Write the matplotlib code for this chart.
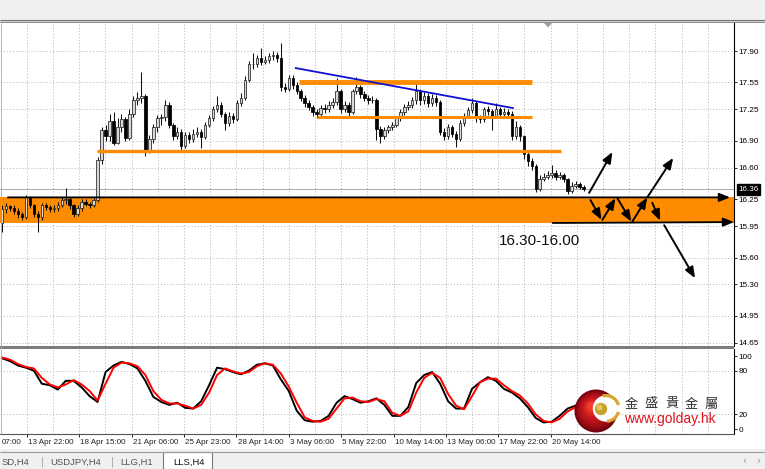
"""
LLS,H4 chart with support zone 16.30-16.00 and stochastic oscillator.
Redraw of a MetaTrader screenshot.
"""

import numpy as np
import matplotlib
matplotlib.use('Agg')
import matplotlib.pyplot as plt
from matplotlib.patches import Rectangle, Circle, Polygon, Wedge
from matplotlib.transforms import blended_transform_factory

# ---- candles (H4), oldest first ----
opens = [15.98, 16.14, 16.17, 16.15, 16.12, 16.08, 16.05, 16.27, 16.18, 16.09,
         16.05, 16.18, 16.16, 16.14, 16.15, 16.19, 16.24, 16.25, 16.18, 16.08,
         16.15, 16.22, 16.20, 16.18, 16.24, 16.69, 17.02, 16.95, 17.12, 16.88,
         17.05, 17.14, 16.93, 17.20, 17.36, 17.38, 17.40, 16.78, 16.92, 17.05,
         17.15, 17.16, 17.30, 17.08, 16.95, 17.00, 16.84, 16.97, 16.92, 16.98,
         17.00, 16.94, 17.08, 17.15, 17.25, 17.30, 17.20, 17.10, 17.18, 17.14,
         17.32, 17.38, 17.58, 17.75, 17.76, 17.82, 17.78, 17.80, 17.84, 17.86,
         17.82, 17.50, 17.48, 17.60, 17.52, 17.46, 17.38, 17.32, 17.28, 17.22,
         17.20, 17.27, 17.25, 17.30, 17.33, 17.45, 17.25, 17.30, 17.22, 17.45,
         17.50, 17.42, 17.38, 17.35, 17.36, 17.03, 16.95, 17.02, 17.05, 17.08,
         17.15, 17.22, 17.28, 17.30, 17.35, 17.45, 17.35, 17.40, 17.32, 17.38,
         17.33, 17.00, 16.95, 17.05, 16.98, 16.92, 17.10, 17.18, 17.24, 17.32,
         17.15, 17.14, 17.25, 17.23, 17.18, 17.25, 17.20, 17.22, 17.20, 16.95,
         17.05, 16.95, 16.75, 16.68, 16.62, 16.36, 16.48, 16.50, 16.52, 16.54,
         16.50, 16.52, 16.47, 16.34, 16.40, 16.42, 16.39]
highs = [16.18, 16.21, 16.19, 16.18, 16.15, 16.11, 16.30, 16.29, 16.20, 16.12,
         16.21, 16.21, 16.19, 16.18, 16.22, 16.27, 16.37, 16.27, 16.20, 16.18,
         16.25, 16.25, 16.22, 16.26, 16.72, 17.05, 17.08, 17.20, 17.22, 17.15,
         17.20, 17.17, 17.25, 17.40, 17.44, 17.67, 17.42, 16.96, 17.09, 17.19,
         17.20, 17.35, 17.33, 17.10, 17.05, 17.03, 17.00, 17.00, 17.03, 17.05,
         17.03, 17.11, 17.19, 17.29, 17.40, 17.33, 17.22, 17.22, 17.21, 17.36,
         17.43, 17.62, 17.79, 17.88, 17.86, 17.93, 17.85, 17.88, 17.90, 17.89,
         17.99, 17.54, 17.63, 17.63, 17.55, 17.48, 17.41, 17.35, 17.30, 17.25,
         17.30, 17.31, 17.34, 17.38, 17.60, 17.48, 17.34, 17.33, 17.48, 17.61,
         17.52, 17.45, 17.41, 17.40, 17.38, 17.06, 17.05, 17.08, 17.11, 17.18,
         17.25, 17.31, 17.34, 17.39, 17.57, 17.48, 17.44, 17.43, 17.42, 17.41,
         17.36, 17.04, 17.09, 17.08, 17.01, 17.13, 17.21, 17.28, 17.38, 17.34,
         17.19, 17.28, 17.29, 17.25, 17.32, 17.28, 17.26, 17.25, 17.23, 17.12,
         17.08, 16.97, 16.78, 16.71, 16.64, 16.52, 16.54, 16.56, 16.63, 16.57,
         16.55, 16.54, 16.49, 16.44, 16.45, 16.44, 16.41]
lows = [15.88, 16.10, 16.12, 16.09, 16.04, 16.02, 16.03, 16.15, 16.05, 15.88,
        16.02, 16.13, 16.11, 16.11, 16.12, 16.16, 16.20, 16.14, 16.05, 16.06,
        16.12, 16.17, 16.15, 16.16, 16.22, 16.64, 16.90, 16.90, 16.85, 16.86,
        17.00, 16.90, 16.91, 17.17, 17.30, 17.32, 16.73, 16.76, 16.88, 17.00,
        17.08, 17.12, 17.04, 16.91, 16.92, 16.78, 16.82, 16.88, 16.89, 16.94,
        16.82, 16.92, 17.05, 17.12, 17.22, 17.16, 17.02, 17.07, 17.10, 17.12,
        17.29, 17.35, 17.55, 17.70, 17.72, 17.74, 17.75, 17.77, 17.80, 17.78,
        17.46, 17.44, 17.45, 17.48, 17.42, 17.34, 17.28, 17.24, 17.18, 17.15,
        17.18, 17.21, 17.22, 17.27, 17.30, 17.21, 17.22, 17.18, 17.20, 17.42,
        17.38, 17.34, 17.31, 17.32, 16.91, 16.88, 16.92, 16.99, 17.02, 17.05,
        17.12, 17.19, 17.24, 17.27, 17.31, 17.30, 17.31, 17.28, 17.29, 17.29,
        16.96, 16.91, 16.92, 16.94, 16.83, 16.90, 17.07, 17.15, 17.21, 17.11,
        17.10, 17.11, 17.19, 17.02, 17.15, 17.16, 17.17, 17.16, 16.91, 16.92,
        16.90, 16.70, 16.62, 16.58, 16.33, 16.34, 16.45, 16.47, 16.49, 16.46,
        16.47, 16.44, 16.31, 16.32, 16.38, 16.36, 16.34]
closes = [16.14, 16.17, 16.15, 16.12, 16.08, 16.05, 16.27, 16.18, 16.09, 16.05,
          16.18, 16.16, 16.14, 16.15, 16.19, 16.24, 16.25, 16.18, 16.08, 16.15,
          16.22, 16.20, 16.18, 16.24, 16.69, 17.02, 16.95, 17.12, 16.88, 17.05,
          17.14, 16.93, 17.20, 17.36, 17.38, 17.40, 16.78, 16.92, 17.05, 17.15,
          17.16, 17.30, 17.08, 16.95, 17.00, 16.84, 16.97, 16.92, 16.98, 17.00,
          16.94, 17.08, 17.15, 17.25, 17.30, 17.20, 17.10, 17.18, 17.14, 17.32,
          17.38, 17.58, 17.75, 17.76, 17.82, 17.78, 17.80, 17.84, 17.86, 17.82,
          17.50, 17.48, 17.60, 17.52, 17.46, 17.38, 17.32, 17.28, 17.22, 17.20,
          17.27, 17.25, 17.30, 17.33, 17.45, 17.25, 17.30, 17.22, 17.45, 17.50,
          17.42, 17.38, 17.35, 17.36, 17.03, 16.95, 17.02, 17.05, 17.08, 17.15,
          17.22, 17.28, 17.30, 17.35, 17.45, 17.35, 17.40, 17.32, 17.38, 17.33,
          17.00, 16.95, 17.05, 16.98, 16.92, 17.10, 17.18, 17.24, 17.32, 17.15,
          17.14, 17.25, 17.23, 17.18, 17.25, 17.20, 17.22, 17.20, 16.95, 17.05,
          16.95, 16.75, 16.68, 16.62, 16.36, 16.48, 16.50, 16.52, 16.54, 16.50,
          16.52, 16.47, 16.34, 16.40, 16.42, 16.39, 16.36]
last_price = 16.36

# ---- stochastic, one reading every 2 bars ----
stoch_step = 2
stoch_k = [97, 93, 87, 84, 80, 62, 60, 54, 66, 66,
           57, 45, 37, 78, 87, 92, 89, 83, 66, 44,
           37, 33, 36, 29, 28, 38, 60, 84, 82, 78,
           75, 80, 88, 90, 87, 68, 52, 25, 12, 10,
           11, 18, 36, 45, 41, 36, 38, 42, 33, 18,
           18, 30, 63, 74, 78, 62, 38, 28, 28, 55,
           64, 71, 66, 55, 50, 42, 30, 15, 9, 10,
           18, 28, 32, 36]
stoch_d = [98, 95, 89, 85, 83, 70, 61, 57, 61, 67,
           61, 52, 39, 62, 84, 91, 90, 86, 74, 52,
           40, 35, 35, 32, 28, 33, 50, 74, 83, 79,
           76, 78, 86, 90, 88, 76, 58, 36, 16, 11,
           10, 14, 28, 42, 43, 38, 37, 41, 38, 22,
           18, 24, 50, 70, 77, 70, 48, 32, 27, 45,
           64, 69, 69, 60, 52, 46, 35, 20, 11, 9,
           14, 24, 30, 34]

price_ticks = [17.90, 17.55, 17.25, 16.90, 16.60, 16.25, 15.95, 15.60, 15.30, 14.95, 14.65]
stoch_ticks = [100, 80, 20, 0]
stoch_levels = [80, 20]
# first label is cut by the window edge, only its time shows
time_labels = ['07:00', '13 Apr 22:00', '18 Apr 15:00', '21 Apr 06:00',
               '25 Apr 23:00', '28 Apr 14:00', '3 May 06:00', '5 May 22:00',
               '10 May 14:00', '13 May 06:00', '17 May 22:00', '20 May 14:00']
tab_names = ['SD,H4', 'USDJPY,H4', 'LLG,H1', 'LLS,H4']
logo_name = ['金', '盛', '貴', '金', '屬']

# ---- analyst drawings (bar index, price) ----
zone_top, zone_bottom = 16.27, 15.985
orange_levels = [(16.79, 23.75, 140.25, 2.4),   # price, from bar, to bar, width
                 (17.56, 74.5, 133.0, 3.5),
                 (17.165, 79.0, 133.0, 2.2)]
trend_x = [73.75, 128.25]
trend_y = [17.71, 17.265]
scenario_arrows = [((147.4, 16.32), (153.25, 16.775)),
                   ((147.75, 16.24), (150.5, 16.02)),
                   ((150.75, 16.02), (154.0, 16.26)),
                   ((154.5, 16.26), (158.0, 16.0)),
                   ((158.25, 16.0), (162.0, 16.27)),
                   ((162.0, 16.27), (168.5, 16.71)),
                   ((163.25, 16.21), (165.25, 16.01)),
                   ((166.25, 15.96), (174.0, 15.37))]

W, H = 765, 469
ORANGE = '#ff8c00'
GRID = dict(color='#b9b9b9', ls=(0, (1.5, 2.2)), lw=0.6)
TXT = 'Liberation Sans'


def px_rect(x0, y0, x1, y1):
    """Axes rectangle from pixel box (origin top left)."""
    return [x0 / W, 1 - y1 / H, (x1 - x0) / W, (y1 - y0) / H]


fig = plt.figure(figsize=(W / 100, H / 100), dpi=100)
fig.patch.set_facecolor('white')

ax = fig.add_axes(px_rect(0, 23, 734, 346))
ax2 = fig.add_axes(px_rect(0, 349, 734, 434))

# vertical grid every 6.575 bars, labels on every second line
grid_step = 6.575
grid_pos = 6.25 + grid_step * np.arange(-1, 28)
label_pos = 6.25 + 2 * grid_step * np.arange(-1, len(time_labels) - 1)

# ---------------- price panel ----------------
idx = np.arange(len(closes))
o = np.array(opens)
c = np.array(closes)
up = c >= o
body = np.maximum(np.abs(c - o), 0.008)

ax.axhspan(zone_bottom, zone_top, color=ORANGE, lw=0, zorder=1)
ax.axhline(last_price, color='#a8a8a8', lw=0.7, zorder=2)
ax.vlines(idx, lows, highs, color='#111111', lw=0.75, zorder=3)
ax.bar(idx[up], body[up], bottom=o[up], width=0.62, color='#d8d8d8',
       edgecolor='#222222', linewidth=0.55, zorder=4)
ax.bar(idx[~up], body[~up], bottom=c[~up], width=0.62, color='black',
       edgecolor='black', linewidth=0.55, zorder=4)

for price, x0, x1, lw in orange_levels:
    ax.hlines(price, x0, x1, color=ORANGE, lw=lw, zorder=5)
ax.plot(trend_x, trend_y, color='#1010d0', lw=1.3, zorder=6)

arrow_kw = dict(arrowstyle='-|>,head_length=0.65,head_width=0.26', color='black',
                lw=1.4, shrinkA=0, shrinkB=0)
ax.annotate('', xy=(182.8, zone_top), xytext=(1.5, zone_top),
            arrowprops=dict(arrow_kw, lw=1.3), zorder=6)
ax.annotate('', xy=(183.8, zone_bottom + 0.01), xytext=(138.25, zone_bottom),
            arrowprops=dict(arrow_kw, lw=1.3), zorder=6, annotation_clip=False)
for start, end in scenario_arrows:
    ax.annotate('', xy=end, xytext=start, arrowprops=arrow_kw, zorder=7)

ax.text(135, 15.784, '16.30-16.00', ha='center', va='center', fontsize=11,
        family=TXT, color='#111111', zorder=7)

ax.set_xlim(-0.5, 183)
ax.set_ylim(14.615, 18.212)
ax.set_xticks(grid_pos)
ax.tick_params(axis='x', length=0, labelbottom=False)
ax.yaxis.tick_right()
ax.set_yticks(price_ticks)
ax.set_yticklabels([f'{t:.2f}' for t in price_ticks], family=TXT)
ax.tick_params(axis='y', length=2.2, width=0.6, pad=1.2, labelsize=5.9)
ax.grid(True, **GRID)
ax.set_axisbelow(True)
for s in ['top', 'left', 'bottom']:
    ax.spines[s].set_visible(False)
ax.spines['right'].set_linewidth(0.8)

tr = blended_transform_factory(ax.transAxes, ax.transData)
ax.text(1.006, last_price, f'{last_price:.2f}', transform=tr, ha='left',
        va='center', fontsize=5.9, family=TXT, color='white', clip_on=False,
        bbox=dict(boxstyle='square,pad=0.22', fc='black', ec='black'))

# ---------------- stochastic panel ----------------
sx = np.arange(len(stoch_k)) * stoch_step
for lv in stoch_levels:
    ax2.axhline(lv, **GRID, zorder=0)
ax2.plot(sx, stoch_k, color='black', lw=1.4, zorder=3)
ax2.plot(sx, stoch_d, color='#ff0000', lw=1.4, zorder=4)

ax2.set_xlim(-0.5, 183)
ax2.set_ylim(-6.85, 109.6)
ax2.set_xticks(label_pos[(label_pos > 0)])
ax2.set_xticks(grid_pos, minor=True)
ax2.tick_params(axis='x', which='major', length=2.5, width=0.6, labelbottom=False)
ax2.tick_params(axis='x', which='minor', length=0)
ax2.grid(True, axis='x', which='both', **GRID)
ax2.set_axisbelow(True)
ax2.yaxis.tick_right()
ax2.set_yticks(stoch_ticks)
ax2.set_yticklabels([str(t) for t in stoch_ticks], family=TXT)
ax2.tick_params(axis='y', length=2.2, width=0.6, pad=1.2, labelsize=5.9)
for s in ['top', 'left']:
    ax2.spines[s].set_visible(False)
ax2.spines['right'].set_linewidth(0.8)
ax2.spines['bottom'].set_linewidth(0.8)
ax2.spines['bottom'].set_color('#555555')

xt = ax2.get_xaxis_transform()
for pos, lab in zip(label_pos, time_labels):
    x = max(pos + 0.3, 0.0)     # cut label sits against the left edge
    ax2.text(x, -0.095, lab, transform=xt, ha='left', va='center',
             fontsize=5.8, family=TXT, color='#222222', clip_on=False)

# ---------------- window chrome and logo ----------------
ov = fig.add_axes([0, 0, 1, 1], zorder=10)
ov.set_xlim(0, W)
ov.set_ylim(H, 0)
ov.axis('off')
ov.patch.set_alpha(0)

ov.add_patch(Rectangle((0, 0), W, 20, color='#f0f0f0', lw=0))
ov.add_patch(Rectangle((0, 20), W, 3, color='#d4d4d4', lw=0))
ov.hlines([20.5, 22.5], 0, W, colors=['#707070', '#8c8c8c'], lw=0.75)
ov.add_patch(Rectangle((0, 346.5), 734, 2.8, color='#7d7d7d', lw=0))
ov.vlines(0.5, 23, 434, colors='#b0b0b0', lw=0.6)
ov.add_patch(Polygon([(544, 23), (552, 23), (548, 27.5)], color='#a0a0a0', lw=0))

# tab strip
ov.add_patch(Rectangle((0, 449), W, 20, color='#f0f0f0', lw=0))
ov.hlines(452.5, 0, W, colors='#9a9a9a', lw=0.8)
ov.add_patch(Rectangle((163, 452.5), 49, 17, fc='white', ec='#7a7a7a', lw=0.8))
tab_x = [2, 50, 120, 173]
for x, name in zip(tab_x, tab_names):
    ov.text(x, 462, name, ha='left', va='center', fontsize=6.8, family=TXT,
            color='#111111' if name == 'LLS,H4' else '#555555')
for x in [42, 112]:
    ov.text(x, 461.5, '|', ha='center', va='center', fontsize=7, color='#9a9a9a')
ov.text(744, 461, '‹', ha='center', va='center', fontsize=7, color='#999999')
ov.text(758, 461, '›', ha='center', va='center', fontsize=7, color='#999999')

# golday logo: shaded red ball with white opening and gold ball
shades = plt.get_cmap('Reds')(np.linspace(0.98, 0.62, 14))
for k, col in enumerate(shades):
    r = 21.5 * (1 - k / 16)
    ov.add_patch(Circle((596 - k * 0.35, 411 - k * 0.35), r, color=col, lw=0))
ov.add_patch(Circle((606, 408.5), 13.2, color='white', lw=0))
ov.add_patch(Wedge((606, 408.5), 14.5, 255, 345, width=3.2, color='#d4a82e', lw=0))
ov.add_patch(Wedge((606, 408.5), 14.5, 15, 85, width=3.2, color='#e0a030', lw=0))
ov.add_patch(Circle((601, 409), 6.2, color='#c9a12a', lw=0))
ov.add_patch(Circle((599.5, 407.5), 3.0, color='#e6c65a', lw=0))

for k, ch in enumerate(logo_name):
    ov.text(631.5 + 20 * k, 404, ch, ha='center', va='center', fontsize=9.5,
            family=['Noto Sans CJK TC', 'DejaVu Sans'], color='#333333')
ov.text(624, 418.5, 'www.golday.hk', ha='left', va='center', fontsize=10,
        family=TXT, color='#e0141e')

fig.savefig('out.png', dpi=100)
